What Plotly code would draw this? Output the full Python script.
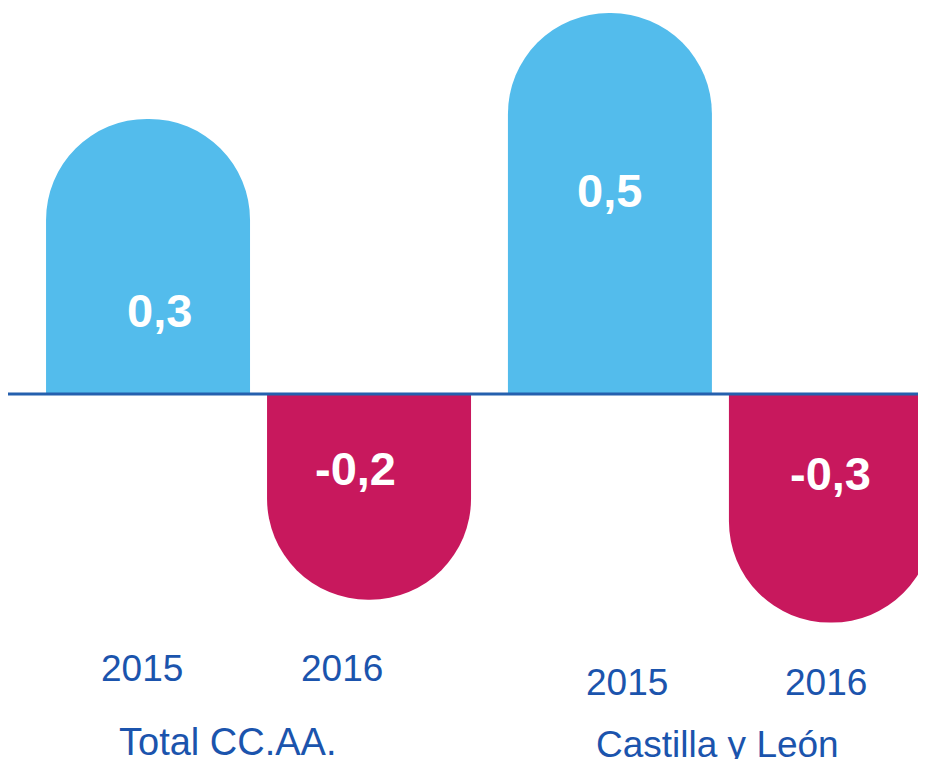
import plotly.graph_objects as go

# ---- data ----
groups = ["Total CC.AA.", "Castilla y León"]
years = ["2015", "2016", "2015", "2016"]
group_index = [0, 0, 1, 1]
year_index = [0, 1, 0, 1]
bar_values = [0.361, -0.270, 0.500, -0.300]   # bar lengths as drawn
value_labels = ["0,3", "-0,2", "0,5", "-0,3"]

# ---- styles / layout (page offset of 8px compensated) ----
POS = "#53BCEC"
NEG = "#C8185D"
TXT = "#1B54AD"
FONT = "Liberation Sans, Arial, sans-serif"
colors = [POS if v >= 0 else NEG for v in bar_values]

GROUP_GAP = 0.09    # extra space between groups (axis units)
BAR_W = 0.923
W, H = 918, 751
L = 26
PW = W - L
BASE = 386          # baseline pixel (figure coords)
PXU = 762           # pixels per unit (y)
X0 = -0.516
XPX = 221           # pixels per unit (x)

xpos = [g * (2 + GROUP_GAP) + y for g, y in zip(group_index, year_index)]

label_shift = [(11, 84), (-14, -74), (0, 204), (0, -79)]   # (xshift, yshift) px from base
year_shift = [-6, -27, 17, -5]
year_y = [1 - 660 / H, 1 - 660 / H, 1 - 674 / H, 1 - 674 / H]
group_x = [(219.5 - L) / PW, (709.5 - L) / PW]
group_y = [1 - 734 / H, 1 - 736 / H]
group_size = [38, 37]

fig = go.Figure(go.Bar(
    x=xpos, y=bar_values, width=BAR_W,
    marker=dict(color=colors, cornerradius="50%", line=dict(width=0)),
    hoverinfo="skip",
))

ann = []
for xv, t, (dx, dy) in zip(xpos, value_labels, label_shift):
    ann.append(dict(x=xv, y=0, xref="x", yref="y", text=t, showarrow=False,
                    xshift=dx, yshift=dy, xanchor="center", yanchor="middle",
                    font=dict(family=FONT, size=47, color="white", weight="bold")))
for xv, t, dx, yy in zip(xpos, years, year_shift, year_y):
    ann.append(dict(x=xv, y=yy, xref="x", yref="paper", text=t, showarrow=False,
                    xshift=dx, xanchor="center", yanchor="middle",
                    font=dict(family=FONT, size=37, color=TXT)))
for t, xx, yy, fs in zip(groups, group_x, group_y, group_size):
    ann.append(dict(x=xx, y=yy, xref="paper", yref="paper", text=t, showarrow=False,
                    xanchor="center", yanchor="middle",
                    font=dict(family=FONT, size=fs, color=TXT)))

fig.update_layout(
    width=W, height=H,
    margin=dict(l=L, r=0, t=0, b=0),
    paper_bgcolor="white", plot_bgcolor="white",
    showlegend=False,
    annotations=ann,
    shapes=[dict(type="line", xref="paper", yref="y", x0=-L / PW, x1=1, y0=0, y1=0,
                 line=dict(color="#2560AE", width=3), layer="above")],
    xaxis=dict(range=[X0, X0 + PW / XPX], showticklabels=False, showgrid=False, zeroline=False,
               showline=False, fixedrange=True),
    yaxis=dict(range=[(BASE - H) / PXU, BASE / PXU], showticklabels=False, showgrid=False,
               zeroline=False, showline=False, fixedrange=True),
)

fig.write_html("out.html")
